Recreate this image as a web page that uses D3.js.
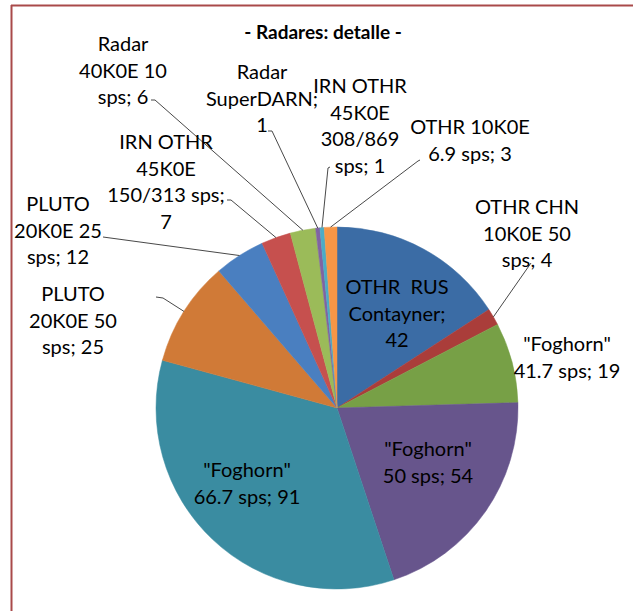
<!DOCTYPE html>
<html>
<head>
<meta charset="utf-8">
<script src="https://cdn.jsdelivr.net/npm/d3@7"></script>
<style>
  html, body { margin: 0; padding: 0; background: #fff; }
  svg { display: block; }
</style>
</head>
<body>
<svg id="chart" width="633" height="611"></svg>
<script>
// ---- data ----
const title = "- Radares: detalle -";
const categories = [
  ["OTHR\u00a0 RUS", "Contayner;"],
  ["OTHR CHN", "10K0E 50", "sps;"],
  ["\"Foghorn\"", "41.7 sps;"],
  ["\"Foghorn\"", "50 sps;"],
  ["\"Foghorn\"", "66.7 sps;"],
  ["PLUTO", "20K0E 50", "sps;"],
  ["PLUTO", "20K0E 25", "sps;"],
  ["IRN OTHR", "45K0E", "150/313 sps;"],
  ["Radar", "40K0E 10", "sps;"],
  ["Radar", "SuperDARN;"],
  ["IRN OTHR", "45K0E", "308/869", "sps;"],
  ["OTHR 10K0E", "6.9 sps;"]
];
const values = [42, 4, 19, 54, 91, 25, 12, 7, 6, 1, 1, 3];
const colors = ["#3b6ca5", "#aa3d3a", "#77a046", "#67558c", "#3a8ca1", "#d07a37",
                "#4a7fc0", "#c6504e", "#9bbb59", "#8064a2", "#4bacc6", "#f79646"];

// ---- layout (label text blocks: centre x, first-line y, leader start / elbow) ----
const labelLayout = [
  {x: 397, y: 287, lead: null},
  {x: 527, y: 207, lead: [[531, 263]]},
  {x: 567, y: 344, lead: null},
  {x: 428, y: 449, lead: null},
  {x: 247, y: 470, lead: null},
  {x: 73,  y: 294, lead: [[156, 297], [163, 298]]},
  {x: 58,  y: 204, lead: [[103, 237]]},
  {x: 166, y: 142, lead: [[227, 200], [231, 200]]},
  {x: 123, y: 44,  lead: [[151, 100], [155, 100]]},
  {x: 262, y: 72,  lead: [[268, 131], [272, 131]]},
  {x: 360, y: 86,  lead: [[330, 167], [328, 168]]},
  {x: 470, y: 127, lead: [[420, 160], [418, 161]]}
];

const svg = d3.select("#chart");
const W = 633, H = 611;
const cx = 337, cy = 408, R = 181;
const lineH = 26.5;
const font = "Lato, 'Open Sans', sans-serif";

// frame (top and left edges visible)
svg.append("line").attr("x1", 11).attr("y1", 5.5).attr("x2", W).attr("y2", 5.5)
  .attr("stroke", "#a94a4a").attr("stroke-width", 2);
svg.append("line").attr("x1", 11.5).attr("y1", 5).attr("x2", 11.5).attr("y2", H)
  .attr("stroke", "#a94a4a").attr("stroke-width", 2);

// title
svg.append("text").attr("x", 323).attr("y", 39)
  .attr("text-anchor", "middle")
  .attr("font-family", font).attr("font-weight", "bold").attr("font-size", 19)
  .attr("fill", "#000").text(title);

const pie = d3.pie().sort(null).value(d => d)(values);
const arc = d3.arc().innerRadius(0).outerRadius(R);

const g = svg.append("g").attr("transform", `translate(${cx},${cy})`);
g.selectAll("path").data(pie).join("path")
  .attr("d", arc)
  .attr("fill", (d, i) => colors[i])
  .attr("stroke", (d, i) => colors[i])
  .attr("stroke-width", 0.5);

// leader lines
const edgePoint = d => {
  const a = (d.startAngle + d.endAngle) / 2;
  return [cx + R * Math.sin(a), cy - R * Math.cos(a)];
};
pie.forEach((d, i) => {
  const L = labelLayout[i];
  if (!L.lead) return;
  const pts = L.lead.concat([edgePoint(d)]);
  svg.append("path")
    .attr("d", d3.line()(pts))
    .attr("fill", "none").attr("stroke", "#333").attr("stroke-width", 0.9);
});

// labels
pie.forEach((d, i) => {
  const L = labelLayout[i];
  const lines = categories[i].slice();
  const last = lines.length - 1;
  // value appended to label (Excel "category; value" format)
  if (i === 0 || i === 9 || i === 7) {
    lines.push(String(values[i]));
  } else {
    lines[last] = lines[last] + " " + values[i];
  }
  const t = svg.append("text")
    .attr("text-anchor", "middle")
    .attr("font-family", font).attr("font-size", 20)
    .attr("fill", "#000");
  lines.forEach((s, k) => {
    t.append("tspan").attr("x", L.x).attr("y", L.y + 7 + k * lineH).text(s);
  });
});
</script>
</body>
</html>
